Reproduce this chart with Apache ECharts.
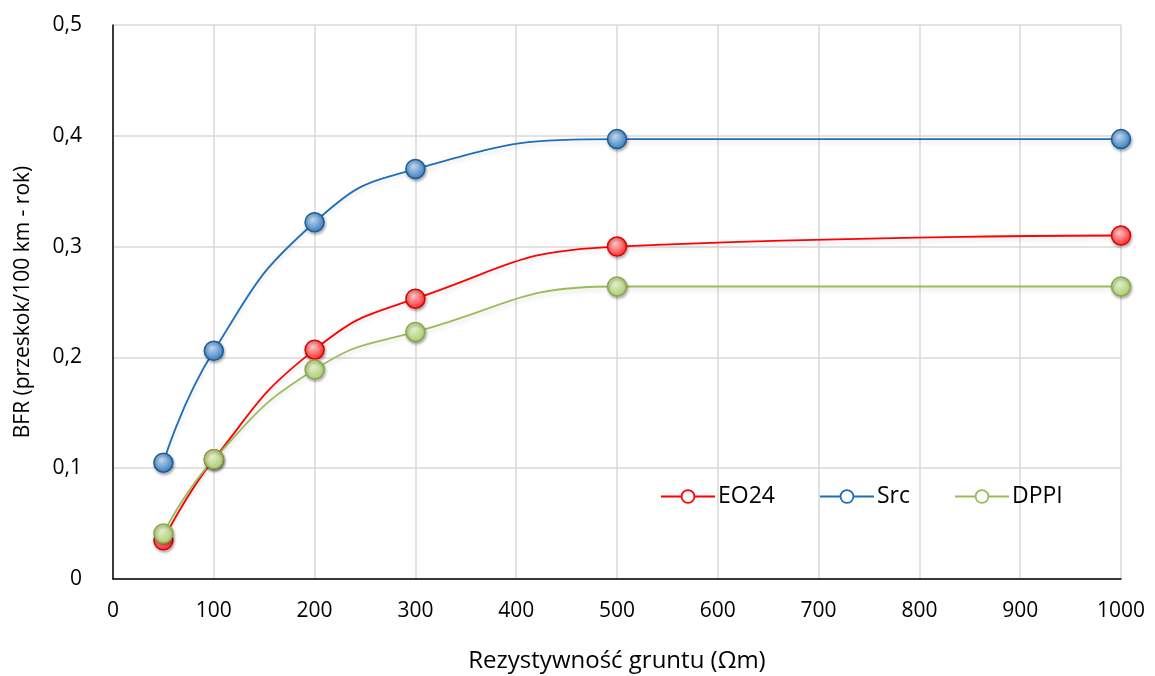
<!DOCTYPE html>
<html><head><meta charset="utf-8">
<script src="https://cdn.jsdelivr.net/npm/echarts@6/dist/echarts.min.js"></script>
<style>html,body{margin:0;padding:0;background:#fff}#c{width:1155px;height:676px}</style>
</head><body><div id="c"></div>
<script>
const xValues = [50, 100, 200, 300, 500, 1000];
const eo24 = [0.035, 0.108, 0.207, 0.253, 0.300, 0.310];
const src = [0.105, 0.206, 0.322, 0.370, 0.397, 0.397];
const dppi = [0.041, 0.108, 0.189, 0.223, 0.264, 0.264];
const seriesNames = ['EO24', 'Src', 'DPPI'];

const FONT = '"Open Sans", sans-serif';
function grad(light, base) {
  return new echarts.graphic.RadialGradient(0.4, 0.35, 0.7, [
    {offset: 0, color: light}, {offset: 1, color: base}
  ]);
}
function mk(name, vals, line, light, base, border) {
  return {
    name, type: 'line', smooth: 0.5, data: xValues.map((x, i) => [x, vals[i]]),
    symbol: 'circle', symbolSize: 19,
    lineStyle: {color: line, width: 1.8, shadowColor: 'rgba(0,0,0,0.12)', shadowBlur: 4, shadowOffsetY: 3},
    itemStyle: {color: grad(light, base), borderColor: border, borderWidth: 1.5,
      shadowColor: 'rgba(0,0,0,0.3)', shadowBlur: 3, shadowOffsetX: 1, shadowOffsetY: 2},
    emphasis: {disabled: true}, z: 3
  };
}
const chart = echarts.init(document.getElementById('c'), null, {renderer: 'canvas'});
chart.setOption({
  animation: false,
  grid: {left: 113, right: 34, top: 25, bottom: 97, containLabel: false, outerBoundsMode: 'none'},
  legend: {
    left: 655, top: 480, itemGap: 44, itemWidth: 54, itemHeight: 16,
    textStyle: {fontFamily: FONT, fontSize: 23, color: '#000', padding: [0, 0, 0, -2]},
    data: [
      {name: seriesNames[0], itemStyle: {color: '#fff', borderColor: '#FF0000', borderWidth: 1.8}},
      {name: seriesNames[1], itemStyle: {color: '#fff', borderColor: '#1F6FB8', borderWidth: 1.8}},
      {name: seriesNames[2], itemStyle: {color: '#fff', borderColor: '#9BBB59', borderWidth: 1.8}}
    ]
  },
  xAxis: {
    type: 'value', min: 0, max: 1000, interval: 100,
    name: 'Rezystywność gruntu (Ωm)', nameLocation: 'middle', nameGap: 70,
    nameTextStyle: {fontFamily: FONT, fontSize: 24, color: '#000'},
    axisLine: {lineStyle: {color: '#000', width: 1.5}},
    axisTick: {show: false},
    axisLabel: {fontFamily: FONT, fontSize: 21, color: '#000', margin: 22, formatter: v => String(v)},
    splitLine: {show: true, lineStyle: {color: '#d9d9d9', width: 1.5}}
  },
  yAxis: {
    type: 'value', min: 0, max: 0.5, interval: 0.1,
    name: 'BFR (przeskok/100 km - rok)', nameLocation: 'middle', nameGap: 79,
    nameTextStyle: {fontFamily: FONT, fontSize: 21, color: '#000'},
    axisLine: {show: true, lineStyle: {color: '#000', width: 1.5}},
    axisTick: {show: false},
    axisLabel: {fontFamily: FONT, fontSize: 21, color: '#000', margin: 31,
      formatter: v => v === 0 ? '0' : v.toFixed(1).replace('.', ',')},
    splitLine: {show: true, lineStyle: {color: '#d9d9d9', width: 1.5}}
  },
  series: [
    mk(seriesNames[0], eo24, '#FF0000', '#FFC8C8', '#FF2020', '#E00000'),
    mk(seriesNames[1], src, '#1F6FB8', '#BFD9F2', '#2E75B6', '#1A5E9E'),
    mk(seriesNames[2], dppi, '#9BBB59', '#E3F0CC', '#A9CA6B', '#8AAA4A')
  ]
});
</script></body></html>
